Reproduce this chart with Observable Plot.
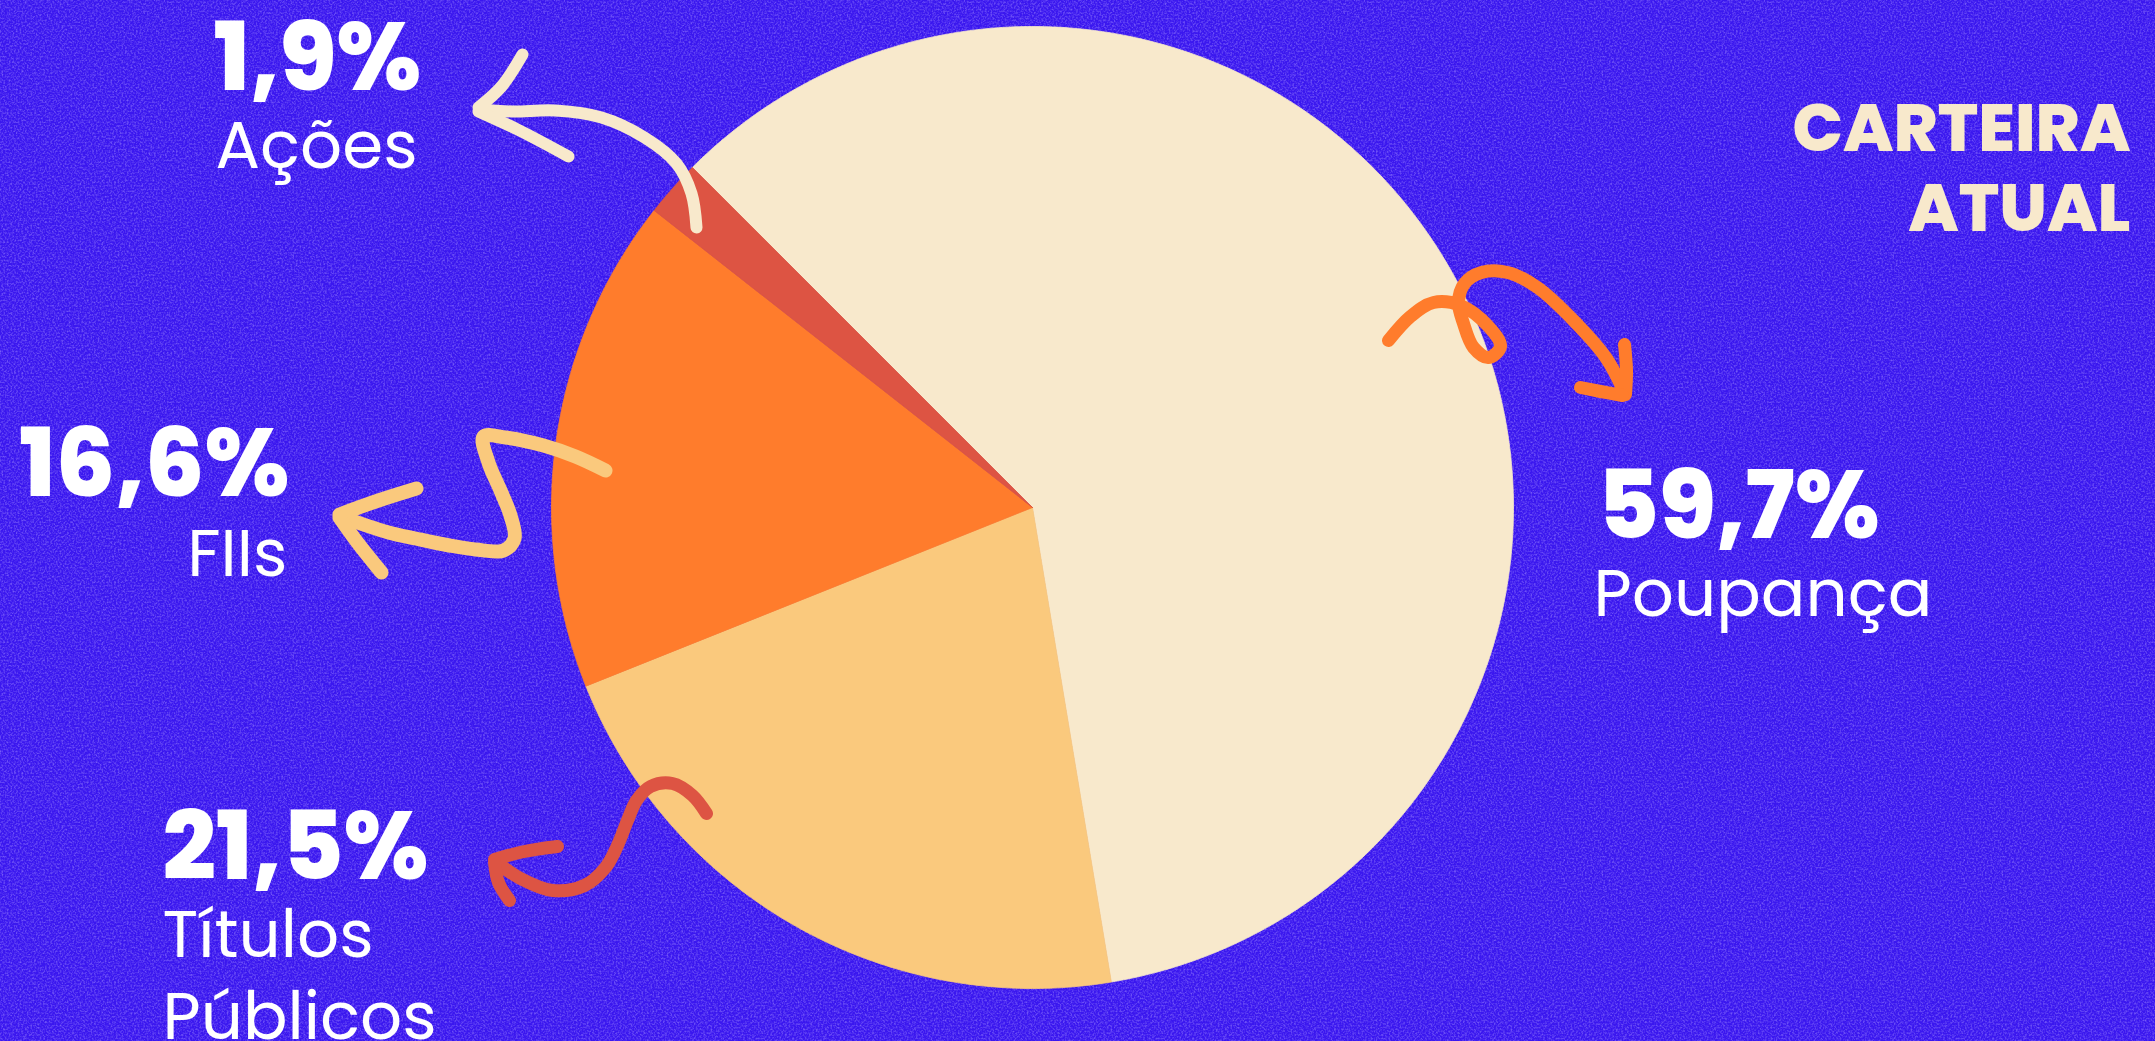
<!DOCTYPE html>
<html>
<head>
<meta charset="utf-8">
<script src="https://cdn.jsdelivr.net/npm/d3@7"></script>
<script src="https://cdn.jsdelivr.net/npm/@observablehq/plot@0.6"></script>
<style>
  html, body { margin: 0; padding: 0; background: #3a17ef; overflow: hidden; }
  #wrap { position: relative; width: 2155px; height: 1041px; }
  #noise { position: absolute; left: 0; top: 0; width: 2155px; height: 1041px; opacity: 0.55;
    background-image: url("data:image/svg+xml;utf8,<svg xmlns='http://www.w3.org/2000/svg' width='400' height='400'><filter id='n'><feTurbulence type='fractalNoise' baseFrequency='0.55' numOctaves='2' seed='3' stitchTiles='stitch'/><feColorMatrix values='0 0 0 0 0.38  0 0 0 0 0.28  0 0 0 0 1  0 0 0 2.2 -0.9'/></filter><rect width='100%' height='100%' filter='url(%23n)'/></svg>"); }
  #chart { position: absolute; left: 0; top: 0; }
</style>
</head>
<body>
<div id="wrap"><div id="noise"></div><div id="chart"></div></div>
<script>
// ---- data ----
const categories = ["Poupança", "Títulos Públicos", "FIIs", "Ações"];
const values = [59.7, 21.5, 16.6, 1.9];
const sliceColors = ["#f8e9cc", "#fac97d", "#ff7c2c", "#dd5443"];
const arrowColors = ["#ff7c2c", "#dd5443", "#fac97d", "#f8e9cc"];
const titleLines = ["CARTEIRA", "ATUAL"];

// ---- layout (annotation placement, not data) ----
const W = 2155, H = 1041;
const pie = {cx: 1032, cy: 507, r: 481, start: -Math.PI / 4};
const labelLayout = [
  {px: 1597, py: 537, pa: "start", nx: 1593, ny: 615, na: "start"},
  {px: 162,  py: 878, pa: "start", nx: 162,  ny: 1038, na: "start"},
  {px: 289,  py: 495, pa: "end",   nx: 287,  ny: 575, na: "end"},
  {px: 213,  py: 89,  pa: "start", nx: 215,  ny: 167, na: "start"}
];
const arrowPaths = [
  { // Poupança
    w: 13,
    body: [[1388,340],[1410,316],[1433,302],[1460,305],[1488,326],[1500,346],[1488,357],[1473,347],[1463,323],[1458,302],[1464,283],[1481,272],[1507,272],[1537,287],[1575,322],[1606,358],[1624,392]],
    wings: [[[1625,394],[1626,370],[1624,344]], [[1622,395],[1600,391],[1580,387]]]
  },
  { // Títulos
    w: 13,
    body: [[706,813],[692,795],[672,783],[650,786],[636,800],[627,820],[617,845],[605,867],[584,885],[552,890],[520,878],[495,861]],
    wings: [[[494,859],[524,851],[557,846]], [[494,862],[498,882],[509,900]]]
  },
  { // FIIs
    w: 14,
    body: [[605,470],[575,456],[543,445],[505,437],[483,436],[488,462],[500,490],[510,515],[514,538],[503,550],[475,549],[449,545],[415,538],[388,532],[340,516]],
    wings: [[[339,514],[378,500],[416,488]], [[339,517],[357,542],[381,572]]]
  },
  { // Ações
    w: 12,
    body: [[696,227],[691,193],[676,163],[644,137],[601,117],[555,110],[512,111],[480,109]],
    wings: [[[478,107],[501,86],[522,54]], [[478,111],[519,130],[568,156]]]
  }
];

// ---- pie geometry from data ----
const arcs = d3.pie().sort(null).startAngle(pie.start).endAngle(pie.start + 2 * Math.PI)(values);
const slicePoints = arcs.map((a, i) => {
  const pts = [{x: pie.cx, y: pie.cy}];
  const n = Math.max(4, Math.ceil((a.endAngle - a.startAngle) / (Math.PI / 360)));
  for (let k = 0; k <= n; k++) {
    const t = a.startAngle + (a.endAngle - a.startAngle) * k / n;
    pts.push({x: pie.cx + pie.r * Math.sin(t), y: pie.cy - pie.r * Math.cos(t)});
  }
  pts.push({x: pie.cx, y: pie.cy});
  return pts;
});

const fmt = v => v.toFixed(1).replace(".", ",") + "%";
const labels = categories.map((c, i) => ({
  pct: fmt(values[i]),
  name: c === "Títulos Públicos" ? "Títulos\nPúblicos" : c,
  ...labelLayout[i]
}));

const toPts = arr => arr.map(([x, y]) => ({x, y}));
const arrowMarks = arrowPaths.flatMap((a, i) => [
  Plot.line(toPts(a.body), {x: "x", y: "y", stroke: arrowColors[i], strokeWidth: a.w, curve: "catmull-rom", strokeLinecap: "round", strokeLinejoin: "round"}),
  ...a.wings.map(w => Plot.line(toPts(w), {x: "x", y: "y", stroke: arrowColors[i], strokeWidth: a.w, curve: "catmull-rom", strokeLinecap: "round", strokeLinejoin: "round"}))
]);

const boldFont = "Poppins, 'Open Sans', sans-serif";
const regFont = "Poppins, Inter, sans-serif";

const chart = Plot.plot({
  width: W, height: H, margin: 0,
  x: {domain: [0, W], range: [0, W], axis: null},
  y: {domain: [0, H], range: [0, H], axis: null},
  style: {background: "transparent", overflow: "visible"},
  marks: [
    ...slicePoints.map((pts, i) => Plot.line(pts, {x: "x", y: "y", fill: sliceColors[i], stroke: sliceColors[i], strokeWidth: 0.8, curve: "linear"})),
    ...arrowMarks,
    Plot.text(labels.filter(d => d.pa === "start"), {x: "px", y: "py", text: "pct", textAnchor: "start", lineAnchor: "bottom", fill: "white", fontSize: 94, fontWeight: 800, fontFamily: boldFont}),
    Plot.text(labels.filter(d => d.pa === "end"), {x: "px", y: "py", text: "pct", textAnchor: "end", lineAnchor: "bottom", fill: "white", fontSize: 94, fontWeight: 800, fontFamily: boldFont}),
    Plot.text(labels.filter(d => d.na === "start"), {x: "nx", y: "ny", text: "name", textAnchor: "start", lineAnchor: "bottom", lineHeight: 1.24, fill: "white", fontSize: 66, fontWeight: 400, fontFamily: regFont}),
    Plot.text(labels.filter(d => d.na === "end"), {x: "nx", y: "ny", text: "name", textAnchor: "end", lineAnchor: "bottom", fill: "white", fontSize: 66, fontWeight: 400, fontFamily: regFont}),
    Plot.text([titleLines.join("\n")], {x: () => 2130, y: () => 230, text: d => d, textAnchor: "end", lineAnchor: "bottom", lineHeight: 1.18, fill: "#f8e9cc", fontSize: 67, fontWeight: 800, fontFamily: boldFont})
  ]
});
document.getElementById("chart").appendChild(chart);
</script>
</body>
</html>
